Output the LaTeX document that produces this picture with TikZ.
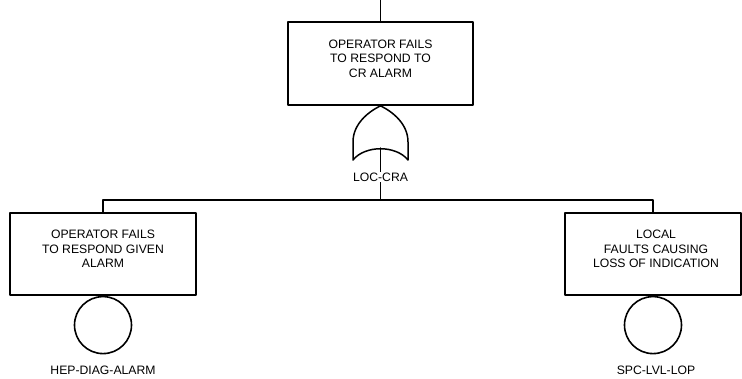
\documentclass[tikz,border=0pt]{standalone}
\usepackage{fontspec}
\setmainfont{Liberation Sans}
\usepackage{tikz}
\usetikzlibrary{positioning}

\tikzset{
  eventbox/.style={draw, line width=1.6pt, inner sep=0pt},
  basicev/.style={draw, circle, line width=1.6pt, minimum size=57pt, inner sep=0pt},
  evtext/.style={align=center, inner sep=0pt, font=\fontsize{12.2}{14.5}\selectfont},
  evname/.style={fill=white, inner sep=1pt, font=\fontsize{12.2}{14}\selectfont},
}

\begin{document}
\begin{tikzpicture}[line cap=round, line join=round, x=1pt, y=-1pt, line width=1.5pt]
                \useasboundingbox (0,0) rectangle (742,379);
                % boxes
                \node[eventbox, minimum width=185pt, minimum height=83pt] (topbox) at (380.5,63.5) {};
                \node[eventbox, minimum width=186pt, minimum height=82pt] (leftbox) at (103,254) {};
                \node[eventbox, minimum width=176pt, minimum height=82pt] (rightbox) at (653,254) {};
                \node[evtext] (toptext) at (380.5,58.5) {OPERATOR FAILS\\TO RESPOND TO\\CR ALARM};
                \node[evtext] (lefttext) at (103,249) {OPERATOR FAILS\\TO RESPOND GIVEN\\ALARM};
                \node[evtext] (righttext) at (656,249) {LOCAL\\FAULTS CAUSING\\LOSS OF INDICATION};
                % basic events
                \node[basicev, below=0pt of leftbox.south] (leftev) {};
                \node[basicev, below=0pt of rightbox.south] (rightev) {};
                % or gate
                \coordinate (gatetip) at (topbox.south);
                \coordinate (gateout) at (380.5,148);
                \draw (353,160) -- (353,142) .. controls (353,124) and (368,112) .. (gatetip)
                      .. controls (393,112) and (408,124) .. (408,142) -- (408,160)
                      .. controls (396,145) and (365,145) .. (353,160);
                % connectors
                \coordinate (topin) at (380.5,0);
                \coordinate (bus) at (380.5,200);
                \draw (topin) -- (topbox.north);
                \draw (gateout) -- (bus);
                \draw (leftbox.north) |- (bus) -| (rightbox.north);
                % names
                \node[evname] (gatename) at (380.5,177) {LOC-CRA};
                \node[evname] (leftname) at (103,370) {HEP-DIAG-ALARM};
                \node[evname] (rightname) at (656,370) {SPC-LVL-LOP};
            \end{tikzpicture}
\end{document}
